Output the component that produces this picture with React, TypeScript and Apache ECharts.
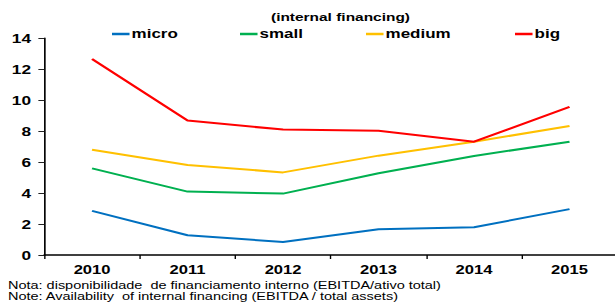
import React, { useEffect, useRef } from "react";
import * as echarts from "echarts";

const years = ["2010", "2011", "2012", "2013", "2014", "2015"];
const micro = [2.85, 1.27, 0.84, 1.66, 1.79, 2.96];
const small = [5.59, 4.09, 3.96, 5.27, 6.39, 7.31];
const medium = [6.79, 5.81, 5.33, 6.41, 7.31, 8.32];
const big = [12.64, 8.67, 8.09, 8.02, 7.31, 9.56];
const seriesNames = ["micro", "small", "medium", "big"];
const colors = ["#0070C0", "#00B050", "#FFC000", "#FF0000"];
const subtitle = "(internal financing)";
const notes = [
  "Nota: disponibilidade  de financiamento interno (EBITDA/ativo total)",
  "Note: Availability  of internal financing (EBITDA / total assets)",
];

// The reference is horizontally stretched; draw in a narrower box and stretch it.
const STRETCH = 1.38;
const INNER_W = 450;
const legendLeft = [112, 240, 366, 515].map((v) => v / STRETCH);

const FONT = "'Liberation Sans', Arial, sans-serif";

export default function App() {
  const ref = useRef<HTMLDivElement>(null);
  useEffect(() => {
    if (!ref.current) return;
    const chart = echarts.init(ref.current, null, { renderer: "svg" });
    const data = [micro, small, medium, big];
    chart.setOption({
      animation: false,
      backgroundColor: "#ffffff",
      title: {
        text: subtitle,
        left: 271 / STRETCH,
        top: 12,
        padding: 0,
        textStyle: { fontFamily: FONT, fontSize: 11.2, fontWeight: "bold", color: "#000" },
      },
      legend: seriesNames.map((n, i) => ({
        data: [n],
        left: legendLeft[i],
        top: 28,
        icon: "rect",
        itemWidth: 12.7,
        itemHeight: 2.5,
        itemGap: 0,
        padding: 0,
        textStyle: {
          fontFamily: FONT,
          fontSize: 12.3,
          fontWeight: "bold",
          color: "#000",
          padding: [0, 0, 0, -3.5],
        },
      })),
      grid: { left: 32.1, right: INNER_W - 447.3, top: 38, bottom: 52 },
      xAxis: {
        type: "category",
        data: years,
        boundaryGap: true,
        axisLine: { lineStyle: { color: "#000", width: 1.5 } },
        axisTick: { show: true, length: 4, lineStyle: { color: "#000" } },
        axisLabel: {
          fontFamily: FONT,
          fontSize: 12,
          fontWeight: "bold",
          color: "#000",
          margin: 9,
        },
      },
      yAxis: {
        type: "value",
        min: 0,
        max: 14,
        interval: 2,
        splitLine: { show: false },
        axisLine: { show: true, lineStyle: { color: "#000", width: 1.2 } },
        axisTick: { show: true, length: 4.3, lineStyle: { color: "#222" } },
        axisLabel: {
          fontFamily: FONT,
          fontSize: 12.5,
          fontWeight: "bold",
          color: "#000",
          margin: 9.6,
        },
      },
      series: seriesNames.map((n, i) => ({
        name: n,
        type: "line",
        data: data[i],
        showSymbol: false,
        symbol: "none",
        lineStyle: { width: 2, color: colors[i] },
        itemStyle: { color: colors[i] },
        z: 2 + i,
      })),
      graphic: notes.map((t, i) => ({
        type: "text",
        left: 8 / STRETCH,
        top: 280 + i * 11,
        style: { text: t, fontFamily: FONT, fontSize: 10.5, fill: "#000" },
      })),
    });
    return () => chart.dispose();
  }, []);
  return (
    <div
      style={{
        position: "fixed",
        left: 0,
        top: 0,
        width: 615,
        height: 307,
        overflow: "hidden",
        background: "#fff",
      }}
    >
      <div
        ref={ref}
        style={{
          width: INNER_W,
          height: 307,
          transform: `scaleX(${STRETCH})`,
          transformOrigin: "0 0",
        }}
      />
    </div>
  );
}
